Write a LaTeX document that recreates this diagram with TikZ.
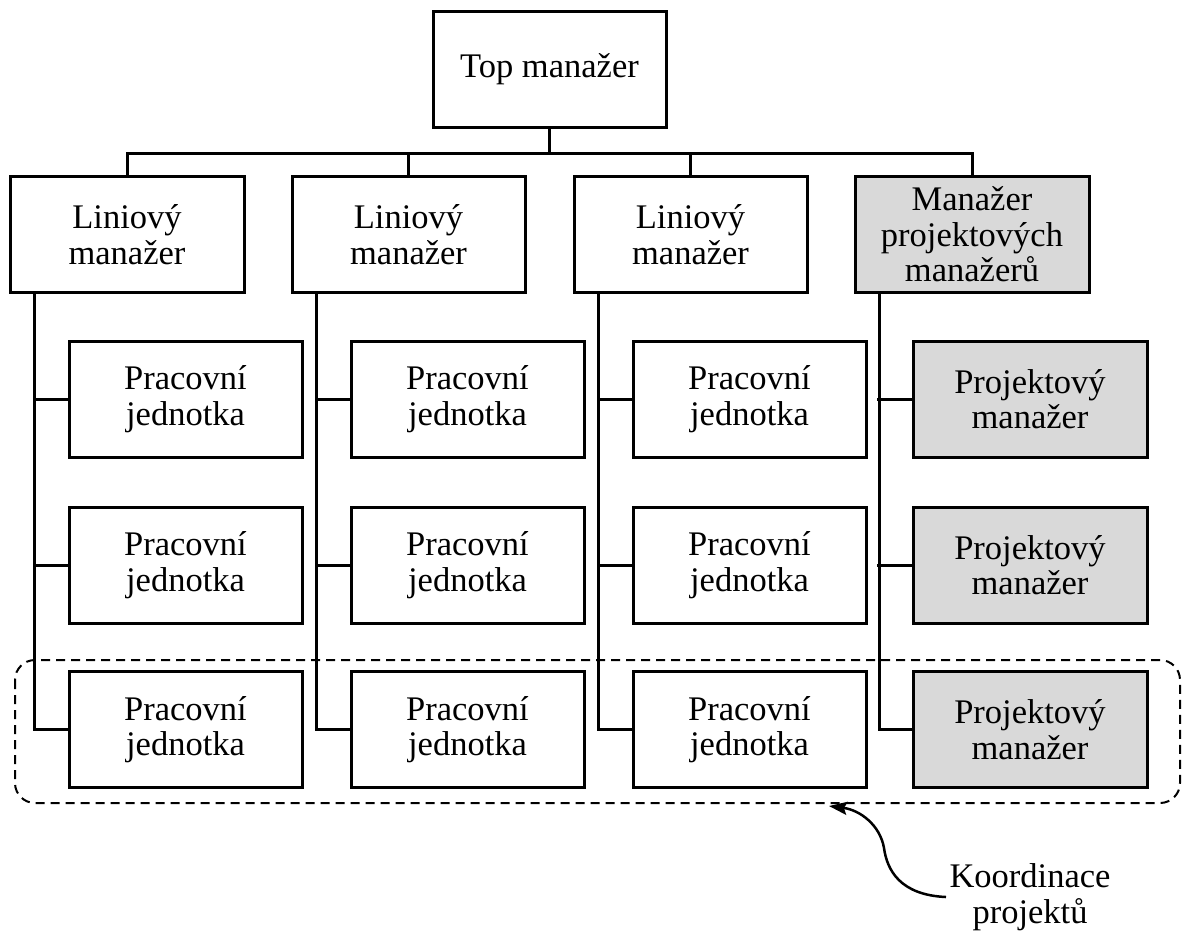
\documentclass[tikz,border=0pt]{standalone}
\usepackage{fontspec}
\setmainfont{Liberation Serif}
\usetikzlibrary{arrows.meta}
\definecolor{pgray}{RGB}{217,217,217}
\begin{document}
\begin{tikzpicture}[x=1pt,y=-1pt,
  every node/.style={font=\fontsize{34.5}{35.5}\selectfont},
  box/.style={draw=black,line width=3pt,minimum width=234pt,minimum height=116pt,inner sep=0pt,align=center},
  pbox/.style={box,fill=pgray},
  conn/.style={line width=3pt,draw=black},
  group/.style={line width=2pt,dash pattern=on 9pt off 6pt,rounded corners=20pt}]
\useasboundingbox (0,0) rectangle (1182,930);
% dashed group
\draw[group] (15,660) rectangle (1180,803);
% top
\node[box,minimum width=233pt] (top) at (549.5,69) {Top manažer};
% level 2
\node[box] (L1) at (127,234.5) {Liniový\\manažer};
\node[box,minimum width=233pt] (L2) at (408.5,234.5) {Liniový\\manažer};
\node[box,minimum width=233pt] (L3) at (690.5,234.5) {Liniový\\manažer};
\node[pbox] (L4) at (972,234.5) {Manažer\\projektových\\manažerů};
% sub boxes
\foreach \c/\x in {1/185.5,2/467.5,3/749.5}{
  \foreach \r/\y in {1/399,2/565,3/729.5}{
    \node[box,minimum width=233pt] (P\c\r) at (\x,\y) {Pracovní\\jednotka};
  }
}
\foreach \r/\y in {1/399,2/565,3/729.5}{
  \node[pbox] (P4\r) at (1030,\y) {Projektový\\manažer};
}
% top connectors
\foreach \n in {1,2,3,4}{
  \draw[conn] (top.south) -- ++(0,25) -| (L\n.north);
}
% sub connectors
\foreach \n/\d in {1/93,2/92.5,3/92.5,4/93}{
  \draw[conn] ([xshift=-\d pt]L\n.south) |- (P\n3.west);
  \draw[conn] (P\n1.west) -- ++(-35,0);
  \draw[conn] (P\n2.west) -- ++(-35,0);
}
% annotation
\node (K) at (1030,897) [align=center] {Koordinace\\projektů};
\coordinate (tip) at (829,806);
\draw[line width=2.5pt,-{Stealth[length=18pt,width=13pt,inset=3pt]}]
  (K.west) .. controls (900,895) and (887,870) .. (884,848)
  .. controls (880,825) and (860,810) .. (tip);
\end{tikzpicture}
\end{document}
